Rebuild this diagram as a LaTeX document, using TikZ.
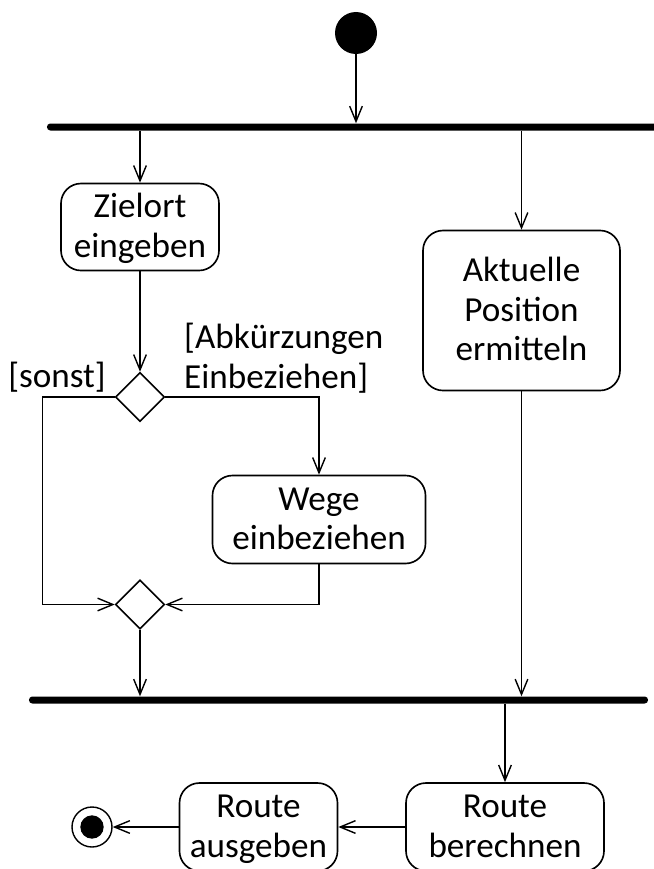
\documentclass[tikz,border=0pt]{standalone}
\usepackage{fontspec}
\setmainfont{Carlito}
\usetikzlibrary{positioning, arrows.meta, shapes.geometric}
\newcommand{\acttext}[1]{\rule{0pt}{26pt}#1\rule[-8pt]{0pt}{8pt}}

\begin{document}
\begin{tikzpicture}[x=0.03cm, y=-0.03cm, >={Straight Barb[length=4.6mm, width=3.8mm]},
    act/.style = {draw, rounded corners=0.6cm, line width=1.4pt, align=center, inner sep=0pt, font=\fontsize{30}{34}\selectfont},
    dec/.style = {draw, diamond, line width=1.3pt, minimum size=1.47cm, inner sep=0pt},
    bar/.style = {fill, rounded corners=0.1cm, minimum height=0.21cm, inner sep=0pt},
    flow/.style = {line width=1.2pt, ->},
    guard/.style = {font=\fontsize{30}{34}\selectfont, align=left, inner sep=0pt}]
    \useasboundingbox (0,0) rectangle (654,869);

    % 节点定义
    \node[circle, fill, minimum size=1.26cm, inner sep=0pt] (start) at (356,33) {};
    \node[bar, minimum width=19.59cm] (fork) at (373.5,127) {};
    \node[act, minimum width=4.74cm, minimum height=2.61cm] (zielort) at (140,227) {\acttext{Zielort\\eingeben}};
    \node[act, minimum width=5.91cm, minimum height=4.8cm] (aktuell) at (521.5,310.5) {\acttext{Aktuelle\\Position\\ermitteln}};
    \node[dec] (dec1) at (140,397) {};
    \node[act, minimum width=6.39cm, minimum height=2.64cm] (wege) at (319,519.5) {\acttext{Wege\\einbeziehen}};
    \node[dec] (merge) at (140,604.5) {};
    \node[bar, minimum width=18.57cm] (join) at (338.5,700) {};
    \node[act, minimum width=5.94cm, minimum height=2.64cm] (berechnen) at (505,827) {\acttext{Route\\berechnen}};
    \node[act, minimum width=4.74cm, minimum height=2.64cm] (ausgeben) at (258.5,827) {\acttext{Route\\ausgeben}};
    \node[circle, draw, line width=1.2pt, minimum size=1.2cm, inner sep=0pt] (end) at (92,827) {};
    \node[circle, fill, minimum size=0.7cm, inner sep=0pt] (endin) at (end) {};

    % 条件
    \node[guard, anchor=east] (sonst) at (106,377) {[sonst]};
    \node[guard, anchor=west] (abk) at (184,358) {[Abkürzungen\\Einbeziehen]};

    % 边定义
    \draw[flow] (start) -- (start |- fork.north);
    \draw[flow] (fork.south -| zielort.north) -- (zielort);
    \draw[flow] (fork.south -| aktuell.north) -- (aktuell);
    \draw[flow] (zielort) -- (dec1);
    \draw[flow] (dec1.east) -| (wege);
    \draw[flow] (dec1.west) -- ++(-72,0) |- (merge.west);
    \draw[flow] (wege) |- (merge.east);
    \draw[flow] (merge) -- (merge.south |- join.north);
    \draw[flow] (aktuell) -- (aktuell.south |- join.north);
    \draw[flow] (join.south -| berechnen.north) -- (berechnen);
    \draw[flow] (berechnen) -- (ausgeben);
    \draw[flow] (ausgeben) -- (end);
\end{tikzpicture}
\end{document}
